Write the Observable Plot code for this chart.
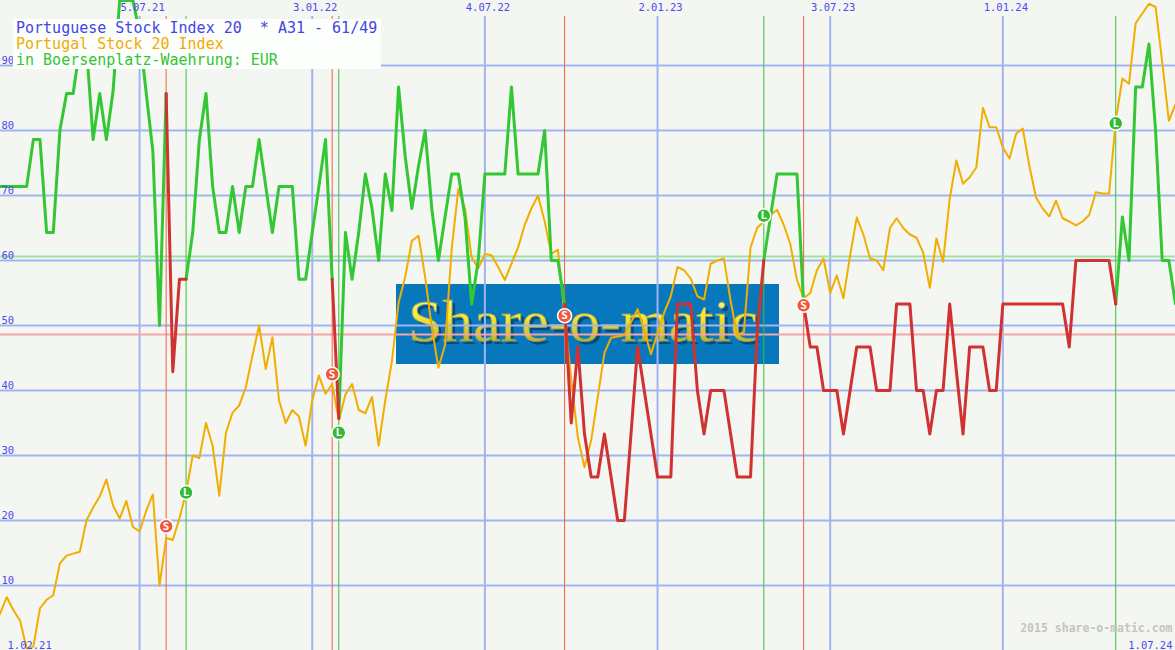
<!DOCTYPE html>
<html><head><meta charset="utf-8">
<script src="https://cdn.jsdelivr.net/npm/d3@7"></script>
<script src="https://cdn.jsdelivr.net/npm/@observablehq/plot@0.6"></script>
<style>
html,body{margin:0;padding:0;background:#f4f6f2;overflow:hidden;}
#chart{width:1175px;height:650px;position:relative;}
</style></head><body><div id="chart"></div>
<script>
// ---------- DATA ----------
const START = "2021-02-01"; // first weekly value
const END = "2024-07-01";   // last weekly value
// weekly index values (orange line)
const orangeVals = [
  4, 5.7, 8.2, 6.2, 4.6, 0.3, 0.6, 6.5, 7.8, 8.5,
  13.4, 14.6, 14.9, 15.2, 20, 22, 23.7, 26.3, 22.3, 20.3,
  23, 19, 18.3, 21.5, 24, 10, 17.3, 17, 20.3, 24.3,
  30, 29.6, 35, 31.5, 23.8, 33.5, 36.6, 37.7, 40.5, 45.4,
  50, 43.3, 48.2, 38.5, 35, 37, 36, 31.5, 38.5, 42.3,
  39.5, 41, 35.4, 39.4, 41, 37, 36.5, 39, 31.5, 38.5,
  44.5, 53.5, 57.5, 63, 63.8, 57.5, 49.7, 43.5, 47, 61.8,
  71, 68, 60.5, 58.8, 61, 60.8, 59, 57, 59.5, 62,
  65.5, 68, 70, 66, 61, 61.7, 51.5, 41.8, 32.8, 28.2,
  32.3, 39, 45.8, 48.1, 48.3, 48.5, 50.5, 52.5, 49.2, 45.6,
  48.8, 52, 54.5, 59, 58.5, 57.2, 54.5, 54, 59.5, 60,
  60.3, 53.8, 48.5, 49, 62, 65, 66, 67, 67.8, 65.5,
  62.5, 57, 54.2, 55, 58.5, 60.3, 55, 57.7, 54.2, 60.8,
  66.6, 64, 60.3, 60, 58.5, 65, 66.5, 65, 64, 63.5,
  61.2, 55.8, 63.4, 59.8, 69.5, 75.4, 71.8, 72.8, 74.3, 83.5,
  80.5, 80.5, 77.4, 75.7, 79.5, 80.3, 74.5, 69.7, 68, 66.8,
  69.2, 66.5, 66, 65.4, 66, 67, 70.5, 70.3, 70.3, 81.5,
  88, 87.2, 96.5, 98, 99.5, 99, 90.5, 81.5, 84
];
// weekly indicator values A31 (green when long, red when short)
const oscVals = [
  71.4, 71.4, 71.4, 71.4, 71.4, 71.4, 78.6, 78.6, 64.3, 64.3,
  80, 85.7, 85.7, 92.9, 92.9, 78.6, 85.7, 78.6, 86, 100,
  100, 100, 95, 85.7, 76.8, 50, 85.7, 42.9, 57.1, 57.1,
  64.3, 78.6, 85.7, 71.4, 64.3, 64.3, 71.4, 64.3, 71.4, 71.4,
  78.6, 71.4, 64.3, 71.4, 71.4, 71.4, 57.1, 57.1, 64.3, 71.4,
  78.6, 57.1, 35.7, 64.3, 57.1, 64.3, 73.3, 68, 60, 73.3,
  67.7, 86.7, 76, 68, 74.5, 80, 68, 60, 66.7, 73.3,
  73.3, 66.7, 53.3, 60, 73.3, 73.3, 73.3, 73.3, 86.7, 73.3,
  73.3, 73.3, 73.3, 80, 60, 60, 53.3, 35, 46.7, 33.3,
  26.7, 26.7, 33.3, 26.7, 20, 20, 33.3, 46.7, 40, 33.3,
  26.7, 26.7, 26.7, 53.3, 53.3, 53.3, 40, 33.3, 40, 40,
  40, 33.3, 26.7, 26.7, 26.7, 49, 60, 66.7, 73.3, 73.3,
  73.3, 73.3, 53.3, 46.7, 46.7, 40, 40, 40, 33.3, 40,
  46.7, 46.7, 46.7, 40, 40, 40, 53.3, 53.3, 53.3, 40,
  40, 33.3, 40, 40, 53.3, 43, 33.3, 46.7, 46.7, 46.7,
  40, 40, 53.3, 53.3, 53.3, 53.3, 53.3, 53.3, 53.3, 53.3,
  53.3, 53.3, 46.7, 60, 60, 60, 60, 60, 60, 53.3,
  66.7, 60, 86.7, 86.7, 93.3, 80, 60, 60, 53.3
];
const sellDates = ["2021-08-02", "2022-01-24", "2022-09-26", "2023-06-05"];
const sellPrices = [19.1, 42.5, 51.5, 53.1];
const buyDates = ["2021-08-23", "2022-01-31", "2023-04-24", "2024-04-29"];
const buyPrices = [24.3, 33.5, 66.9, 81.1];
const upperLevel = 60.6;
const lowerLevel = 48.6;
const gridYValues = [10, 20, 30, 40, 50, 60, 70, 80, 90];
const gridDates = ["2021-07-05", "2022-01-03", "2022-07-04", "2023-01-02", "2023-07-03", "2024-01-01"];
const gridLabels = ["5.07.21", "3.01.22", "4.07.22", "2.01.23", "3.07.23", "1.01.24"];
const titleLines = ["Portuguese Stock Index 20  * A31 - 61/49", "Portugal Stock 20 Index", "in Boersenplatz-Waehrung: EUR"];
const titleColors = ["#4444e4", "#f2aa00", "#33c433"];
const startLabel = "1.02.21";
const endLabel = "1.07.24";
const creditLabel = "2015 share-o-matic.com";
const logoText = "Share-o-matic";

// ---------- BUILD ----------
const parse = d3.utcParse("%Y-%m-%d");
const t0 = parse(START);
const weeks = orangeVals.map((_, i) => d3.utcDay.offset(t0, 7 * i));
const priceData = weeks.map((date, i) => ({date, value: orangeVals[i]}));
const weekIndex = s => Math.round((parse(s) - t0) / (7 * 864e5));

const events = [
  ...sellDates.map(d => [weekIndex(d), "short"]),
  ...buyDates.map(d => [weekIndex(d), "long"])
].sort((a, b) => a[0] - b[0]);
const oscData = [];
{
  let state = "long", seg = 0, start = 0;
  for (const [k, next] of [...events, [weeks.length - 1, null]]) {
    for (let i = start; i <= k; i++) oscData.push({date: weeks[i], value: oscVals[i], seg, state});
    seg++; start = k; if (next) state = next;
  }
}
const sells = sellDates.map((d, i) => ({date: parse(d), value: sellPrices[i]}));
const buys = buyDates.map((d, i) => ({date: parse(d), value: buyPrices[i]}));
const gridD = gridDates.map(parse);

const NS = "http://www.w3.org/2000/svg";
function el(tag, attrs, parent) {
  const e = document.createElementNS(NS, tag);
  for (const k in attrs) e.setAttribute(k, attrs[k]);
  if (parent) parent.appendChild(e);
  return e;
}
function logoMark() {
  const g = el("g", {"text-anchor": "start"});
  const defs = el("defs", {}, g);
  const lg = el("linearGradient", {id: "gold", x1: 0, y1: 0, x2: 0, y2: 1}, defs);
  el("stop", {offset: "0%", "stop-color": "#fffbb0"}, lg);
  el("stop", {offset: "45%", "stop-color": "#f4e830"}, lg);
  el("stop", {offset: "100%", "stop-color": "#a09a30"}, lg);
  el("rect", {x: 396, y: 284, width: 383, height: 80, fill: "#0878bc"}, g);
  const sh = el("text", {x: 411, y: 344, "text-anchor": "start", fill: "#053a60", "font-family": "Liberation Serif, DejaVu Serif, serif", "font-size": 60, textLength: 350, lengthAdjust: "spacingAndGlyphs", opacity: 0.7}, g);
  sh.textContent = logoText;
  const t = el("text", {x: 408, y: 341, "text-anchor": "start", fill: "url(#gold)", stroke: "#8a9a70", "stroke-width": 0.8, "font-family": "Liberation Serif, DejaVu Serif, serif", "font-size": 60, textLength: 350, lengthAdjust: "spacingAndGlyphs"}, g);
  t.textContent = logoText;
  return g;
}
function titleMark() {
  const g = el("g", {"text-anchor": "start"});
  el("rect", {x: 13, y: 19, width: 368, height: 50, fill: "#fdfffd"}, g);
  titleLines.forEach((s, i) => {
    const t = el("text", {x: 16, y: 32.5 + 16 * i, "text-anchor": "start", fill: titleColors[i], "font-family": "DejaVu Sans Mono, monospace", "font-size": 15, "xml:space": "preserve", style: "white-space:pre"}, g);
    t.textContent = s;
  });
  return g;
}

const gridColor = "#a3b3f0";
const labelColor = "#4a4aee";
const mono = "DejaVu Sans Mono, monospace";

const chart = Plot.plot({
  width: 1175, height: 650,
  margin: 0, marginTop: 0, marginRight: 0, marginBottom: 0, marginLeft: 0,
  x: {type: "utc", domain: [t0, parse(END)], range: [-7, 1175], axis: null},
  y: {domain: [0, 100], range: [650, 0], axis: null},
  style: {background: "transparent", overflow: "hidden"},
  marks: [
    logoMark,
    Plot.ruleY(gridYValues, {stroke: gridColor, strokeWidth: 2}),
    Plot.ruleX(gridD, {stroke: gridColor, strokeWidth: 2, insetTop: 16}),
    Plot.ruleY([upperLevel], {stroke: "#9de49d", strokeWidth: 2}),
    Plot.ruleY([lowerLevel], {stroke: "#f4a6a6", strokeWidth: 2}),
    Plot.ruleX(sells, {x: "date", stroke: "#f2603e", strokeWidth: 1, insetTop: 16}),
    Plot.ruleX(buys, {x: "date", stroke: "#3cbf3c", strokeWidth: 1, insetTop: 16}),
    Plot.line(priceData, {x: "date", y: "value", stroke: "#f2ae00", strokeWidth: 2}),
    Plot.line(oscData.filter(d => d.state === "long"), {x: "date", y: "value", z: "seg", stroke: "#33c733", strokeWidth: 3}),
    Plot.line(oscData.filter(d => d.state === "short"), {x: "date", y: "value", z: "seg", stroke: "#d03232", strokeWidth: 3}),
    Plot.dot(sells, {x: "date", y: "value", r: 7, fill: "#f0583c", stroke: "white", strokeWidth: 1.5}),
    Plot.text(sells, {x: "date", y: "value", text: () => "S", fill: "white", fontSize: 11, fontWeight: "bold", fontFamily: mono}),
    Plot.dot(buys, {x: "date", y: "value", r: 7, fill: "#33bb33", stroke: "white", strokeWidth: 1.5}),
    Plot.text(buys, {x: "date", y: "value", text: () => "L", fill: "white", fontSize: 11, fontWeight: "bold", fontFamily: mono}),
    Plot.text(gridYValues, {y: d => d, text: d => String(d), frameAnchor: "left", textAnchor: "start", lineAnchor: "bottom", dx: 1, dy: -2, fill: labelColor, fontSize: 10.5, fontFamily: mono}),
    Plot.text(gridD, {x: d => d, text: (d, i) => gridLabels[i], frameAnchor: "top", lineAnchor: "top", dx: 3, dy: 3, fill: labelColor, fontSize: 10.5, fontFamily: mono}),
    Plot.text([startLabel], {text: d => d, frameAnchor: "bottom-left", textAnchor: "start", lineAnchor: "bottom", dx: 7, dy: -2, fill: labelColor, fontSize: 10.5, fontFamily: mono}),
    Plot.text([endLabel], {text: d => d, frameAnchor: "bottom-right", textAnchor: "end", lineAnchor: "bottom", dx: -3, dy: -2, fill: labelColor, fontSize: 10.5, fontFamily: mono}),
    Plot.text([creditLabel], {text: d => d, frameAnchor: "bottom-right", textAnchor: "end", lineAnchor: "bottom", dx: -3, dy: -19, fill: "#c4c4c4", fontSize: 11.5, fontWeight: "bold", fontFamily: mono}),
    titleMark
  ]
});
document.getElementById("chart").appendChild(chart);
</script>
</body></html>
